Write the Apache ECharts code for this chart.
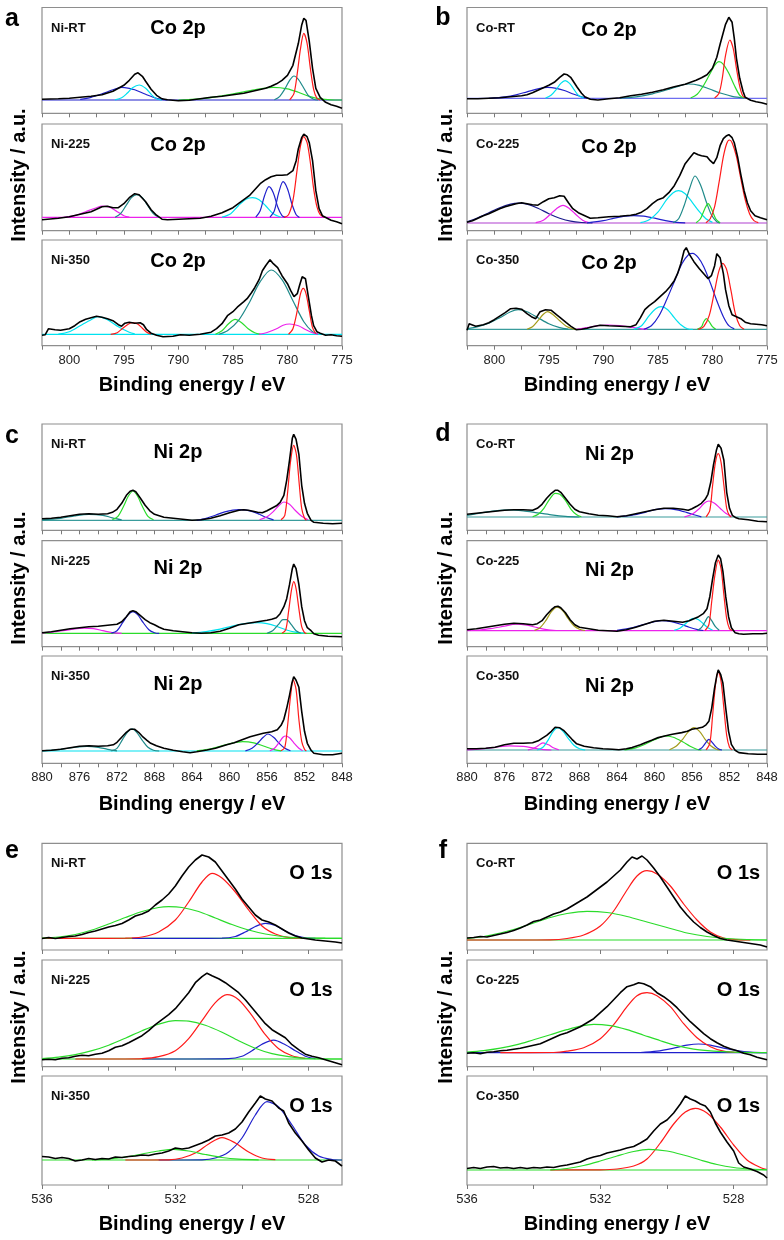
<!DOCTYPE html>
<html><head><meta charset="utf-8">
<script src="https://cdn.jsdelivr.net/npm/echarts@6/dist/echarts.min.js"></script>
<style>html,body{margin:0;padding:0;background:#fff}#c{width:784px;height:1240px}</style>
</head><body><div id="c"></div>
<script>
// ---------- axis ticks / labels ----------
const CO_TICKS = [775,777.5,780,782.5,785,787.5,790,792.5,795,797.5,800,802.5];
const CO_LABELS = [775,780,785,790,795,800];
const NI_TICKS = [848,850,852,854,856,858,860,862,864,866,868,870,872,874,876,878,880];
const NI_LABELS = [848,852,856,860,864,868,872,876,880];
const O_TICKS = [528,530,532,534,536];
const O_LABELS = [528,532,536];
const SAMPLES_LEFT = ['Ni-RT','Ni-225','Ni-350'];
const SAMPLES_RIGHT = ['Co-RT','Co-225','Co-350'];
const ELEMENTS = ['Co 2p','Ni 2p','O 1s'];
const PANEL_LETTERS = ['a','b','c','d','e','f'];
const X_TITLE = 'Binding energy / eV';
const Y_TITLE = 'Intensity / a.u.';

// ---------- (a) Ni samples, Co 2p ----------
const A1_BASE = 13.3;
const A1_RAW = [[802.5,14],[801,14.5],[800,15],[799,16],[798,17],[797,18.5],[796,22],[795.5,25],[795,28],[794.5,33],[794,39],[793.7,40.5],[793.3,37],[793,32],[792.5,24],[792,18],[791.5,14.5],[791,13.5],[790,12.5],[789,13],[788,14.5],[787,16],[786,17],[785,18.5],[784,20],[783,22.5],[782,25],[781.5,27],[781,29.5],[780.5,33],[780,38],[779.5,48],[779,70],[778.7,88],[778.5,95],[778.3,93],[778,72],[777.7,45],[777.4,25],[777,16],[776.5,11],[776,8.5],[775.5,7],[775,5]];
const A1_BLUE = [[799,14],[798,16],[797,19.5],[796,23.5],[795.2,26],[794.5,25],[794,23.5],[793,19],[792,15],[791,13.5]];
const A1_CYAN = [[795.8,13.5],[795.2,15.5],[794.7,20],[794.2,25.5],[793.6,28.3],[793,25],[792.5,19],[792,14.5],[791.5,13.3]];
const A1_GREEN = [[790,13.3],[788,14.5],[786,17.5],[784,21.5],[782.5,24.5],[781.3,26],[780,24.5],[779,21],[778,17],[777,14.5],[776,13.5],[775,13.3]];
const A1_TEAL = [[781.2,13.5],[780.7,17],[780.2,25],[779.8,33],[779.4,37.3],[779,34],[778.6,27],[778.1,18],[777.6,14],[777.2,13.3]];
const A1_RED = [[779.8,13.5],[779.4,20],[779.1,40],[778.8,65],[778.5,80],[778.2,70],[777.9,45],[777.6,24],[777.3,15],[777,13.3]];

const A2_BASE = 13.3;
const A2_RAW = [[802.5,11],[802,11.5],[801,12.5],[800,14],[799,16.5],[798,19],[797,24],[796.5,24.5],[796,23],[795.5,23],[795,27],[794.5,33],[794,37],[793.6,36],[793,29],[792.5,21],[792,15.5],[791.5,11.5],[791,11],[790,11.5],[789,12],[788,12.5],[787,14.5],[786,18],[785,23],[784.5,27],[784,31],[783.5,35],[783,41],[782.5,47],[782,51],[781.5,54],[781,55.5],[780.5,55.5],[780,56],[779.5,60],[779.2,70],[779,82],[778.7,93],[778.5,96.5],[778.2,94],[778,88],[777.7,70],[777.4,40],[777.1,22],[776.8,15],[776,10.5],[775.5,9],[775,7]];
const A2_MAGENTA = [[800.5,13.3],[799.5,15],[798.5,19],[797.5,23],[797,24.5],[796.3,23.5],[795.6,19],[795,15],[794.5,13.5]];
const A2_TEAL = [[795.8,13.5],[795.3,17],[794.8,25],[794.3,33],[793.8,36],[793.3,33],[792.8,25],[792.3,17],[791.8,13.5]];
const A2_CYAN = [[786,13.5],[785.2,17],[784.5,25],[783.8,31.5],[783.2,33],[782.6,31],[782,25],[781.3,17],[780.6,13.5]];
const A2_BLUE1 = [[782.9,13.5],[782.5,20],[782.1,35],[781.7,44],[781.3,38],[780.9,24],[780.5,15],[780.2,13.3]];
const A2_BLUE2 = [[781.6,13.5],[781.2,20],[780.8,38],[780.4,49],[780,42],[779.6,27],[779.2,16],[778.9,13.3]];
const A2_RED = [[780.3,13.3],[779.9,16],[779.5,30],[779.1,62],[778.8,85],[778.5,94],[778.2,88],[777.9,68],[777.6,42],[777.3,24],[777,16],[776.6,13.5]];

const A3_BASE = 11.4;
const A3_RAW = [[802.5,10.5],[802.2,11],[801.9,17],[801.3,16],[800.8,15.5],[800,17],[799.5,20],[799,24],[798.5,26.5],[798,28],[797.5,29.5],[797,28.5],[796.5,27],[796,25],[795.5,21],[795.2,19.5],[794.9,22.5],[794.5,23.5],[794,22.5],[793.5,23],[793.2,21],[792.9,16],[792.5,12.5],[792,10.5],[791.4,9],[790.5,9.5],[789.8,11],[789,10.5],[788,11.5],[787,13.5],[786.5,17],[786,22],[785.5,30],[785,34],[784.6,38.5],[784,44],[783.7,47],[783.3,53],[783,58],[782.6,66],[782.3,75],[782,80],[781.6,86],[781.3,82],[780.9,78],[780.5,70],[780,62],[779.7,55],[779.4,49],[779.1,52],[778.9,60],[778.65,69],[778.35,67],[778.1,50],[777.8,30],[777.6,20],[777.3,14],[777,12.5],[776.5,10.5],[776,11],[775.5,10],[775,9.5]];
const A3_CYAN = [[801,11.5],[800,14],[799,20],[798,26],[797.4,29],[796.5,26],[795.5,19],[794.5,13.5],[794,11.8]];
const A3_RED1 = [[796.2,11.4],[795.6,13],[795.1,17.5],[794.6,21.5],[794.2,23],[793.7,21.5],[793.3,17.5],[792.9,13.5],[792.5,11.6]];
const A3_GREEN = [[786.6,11.5],[786,15],[785.4,22],[784.8,26.3],[784.2,23],[783.6,17],[783,13],[782.5,11.5]];
const A3_TEAL = [[786.3,11.5],[785.5,15],[784.5,25],[783.5,43],[782.5,64],[781.5,75.7],[780.5,66],[779.5,45],[778.5,24],[777.7,14],[777.2,11.6]];
const A3_MAGENTA = [[782.6,11.5],[781.8,13.5],[781,17],[780.4,20.5],[779.8,21.7],[779,20],[778.3,16],[777.7,13],[777.2,11.6]];
const A3_RED2 = [[779.9,11.5],[779.5,17],[779.1,35],[778.8,52],[778.55,57.3],[778.3,52],[778,35],[777.7,18],[777.4,12]];

// ---------- (b) Co samples, Co 2p ----------
const B1_BASE = 15;
const B1_RAW = [[802.5,14.5],[801.5,14.5],[800.5,15],[799.5,15.5],[798.5,16.5],[797.5,17.5],[797,18.5],[796.5,20.5],[796,23],[795.5,25.5],[795,28],[794.5,31],[794,36],[793.6,39.3],[793.3,38.5],[793,36],[792.7,31],[792.4,26],[792,20],[791.7,16.5],[791.2,14],[790.5,13.3],[789.5,14.5],[788.5,15.5],[787.5,17.5],[786.5,19],[785.5,21],[784.5,23.5],[783.5,26.5],[782.5,29],[782,31],[781.5,33],[781,35.5],[780.5,38.5],[780,45],[779.6,56],[779.3,69],[779,81],[778.8,89],[778.5,96],[778.2,91],[778,75],[777.8,55],[777.5,35],[777.2,22],[777,16],[776.5,13],[776,11.5],[775.5,10.5],[775,9]];
const B1_BLUE = [[800.5,15],[799,16.5],[798,18.5],[797,21.5],[796,24.5],[795.1,26],[794.3,25],[793.5,22.5],[792.7,19],[792,16.5],[791.5,15.2]];
const B1_CYAN = [[795.3,15.2],[794.8,18],[794.3,24],[793.9,30],[793.5,32.7],[793.1,30],[792.7,24],[792.3,18],[791.8,15.2]];
const B1_TEAL = [[788.5,15.2],[787,16.5],[785.5,19.5],[784,24],[783,27.5],[782.2,29.3],[781.2,28],[780.2,24],[779.2,20],[778.2,17],[777,15.3]];
const B1_GREEN = [[782,15.3],[781.4,19],[780.8,28],[780.2,40],[779.8,48],[779.4,51.7],[779,49],[778.5,40],[778,28],[777.5,18],[777.1,15.3]];
const B1_RED = [[779.8,15.3],[779.4,20],[779.1,35],[778.8,58],[778.4,73.3],[778.1,65],[777.8,45],[777.5,27],[777.2,17],[776.9,15.3]];

const B2_BASE = 7.7;
const B2_RAW = [[802.5,8.5],[802,10],[801.5,12.5],[801,15],[800.5,17],[800,19.5],[799.5,22],[799,24],[798.5,25.5],[798,27],[797.5,28],[797,27],[796.5,26],[796,25.5],[795.5,29],[795,32],[794.5,33],[794,35],[793.6,34.5],[793.2,28],[792.8,22],[792.3,18],[791.8,15.5],[791.2,12.5],[790.5,13],[789.5,14],[788.5,14.5],[787.5,15.5],[787,16.5],[786.5,18.5],[786,22],[785.5,27],[785,31],[784.5,33],[784,38],[783.5,45],[783,55],[782.5,67],[782,74],[781.7,78],[781.3,76],[781,75],[780.5,74],[780.2,70],[779.9,67],[779.6,73],[779.3,85],[779,92],[778.7,95],[778.5,96],[778.2,93],[778,88],[777.7,74],[777.4,56],[777.1,40],[776.8,28],[776.5,20],[776.1,15],[775.6,13],[775,11]];
const B2_NAVY = [[802.5,9],[801.5,13],[800.5,18],[799.5,23],[798.5,26.5],[797.8,27.5],[797,26.5],[796,22.5],[795,17],[794,12.5],[793,9.5],[792,8.2],[791,7.8]];
const B2_MAGENTA = [[796.2,8],[795.5,10.5],[794.9,16],[794.3,22],[793.7,25.3],[793.1,22],[792.5,16],[791.9,10.5],[791.3,8]];
const B2_BLUE = [[791.5,7.8],[790,10],[789,12.5],[788,14.5],[787.2,15],[786.3,14.5],[785.3,12.5],[784.3,10],[783.3,8.3],[782.5,7.8]];
const B2_CYAN = [[786.6,8],[785.8,11],[785,18.5],[784.2,31],[783.6,38],[783.1,40],[782.5,37],[781.9,29],[781.2,19],[780.6,12],[780,8.3]];
const B2_TEAL = [[783.6,8],[783.1,12],[782.6,25],[782.1,42],[781.6,54.7],[781.1,46],[780.6,30],[780.1,16],[779.6,9],[779.3,7.9]];
const B2_GREEN = [[781.5,8],[781.1,12],[780.7,22],[780.4,27],[780.1,22],[779.7,12],[779.3,8]];
const B2_RED = [[780.6,8],[780.2,12],[779.8,24],[779.4,48],[779,74],[778.7,87],[778.45,90.7],[778.2,88],[777.8,74],[777.4,52],[777,31],[776.6,17],[776.2,10],[775.8,8]];

const B3_BASE = 16.3;
const B3_RAW = [[802.5,15.5],[802.3,22],[801.7,19.5],[801,21],[800.5,23],[800,26],[799.5,29.5],[799,33],[798.5,37],[798,37.5],[797.5,36.5],[797,32],[796.6,29],[796.2,27],[795.8,34],[795.3,36],[794.8,35.5],[794.3,31],[793.9,27.5],[793.4,23],[793,19.5],[792.5,16],[792,16.5],[791.5,17.5],[791,19],[790.3,20.5],[789.5,20],[788.5,19.5],[787.5,19],[787,21],[786.6,28],[786.2,36],[785.8,40],[785.3,44],[784.8,49],[784.3,54],[783.9,59],[783.5,65],[783.2,72],[782.9,82],[782.6,95],[782.4,98],[782.1,91],[781.7,84],[781.2,77],[780.8,72],[780.4,67],[780.1,70],[779.8,80],[779.6,92],[779.3,88],[779,72],[778.8,56],[778.5,40],[778.2,31],[777.8,29],[777.4,27],[777,23.5],[776.5,22],[776,21.5],[775.5,21],[775,20]];
const B3_TEAL = [[802.5,17],[801.5,19],[800.5,22.5],[799.5,28],[798.5,34],[797.8,36],[797,34],[796,28],[795,22],[794,18],[793.2,16.5]];
const B3_OLIVE = [[797,16.5],[796.5,19],[796,25],[795.5,31.5],[795.1,34],[794.6,31],[794,25],[793.4,19.5],[792.8,16.8],[792.4,16.3]];
const B3_MAGENTA = [[792.5,16.3],[791.5,18],[790.5,20],[789.5,20.7],[788.5,20],[787.5,18.5],[786.5,16.8],[786,16.3]];
const B3_CYAN = [[787.2,16.5],[786.5,20],[785.8,30],[785.2,37],[784.7,39],[784.1,36],[783.5,28],[782.9,21],[782.3,17],[781.8,16.3]];
const B3_BLUE = [[786.3,16.5],[785.6,20],[784.9,30],[784.2,46],[783.5,64],[782.8,82],[782.2,91],[781.8,92.3],[781.3,88],[780.8,79],[780.2,63],[779.6,45],[779,29],[778.5,20],[778,16.8]];
const B3_GREEN = [[781.4,16.3],[781,19],[780.8,24],[780.55,27],[780.3,24],[780,19],[779.7,16.5]];
const B3_RED = [[781.3,16.3],[780.8,19],[780.3,30],[779.8,55],[779.4,75],[779.05,82.3],[778.7,76],[778.3,55],[777.9,32],[777.5,20],[777.1,16.5]];

// ---------- (c) Ni samples, Ni 2p ----------
const C1_BASE = 10;
const C1_RAW = [[880,11.5],[879,12],[878,13],[877,14.5],[876,16],[875,16.5],[874,16],[873,16.5],[872.5,18],[872,21],[871.5,27],[871,35],[870.6,39],[870.3,40],[870,38.5],[869.5,32],[869,25],[868.5,19.5],[868,16],[867,13],[866,12],[865,11],[864,10],[863,10.5],[862,12],[861,14.5],[860,17.5],[859,20],[858.5,20.5],[858,20],[857,18],[856.5,17.5],[856,19.5],[855.5,22],[855,24.5],[854.6,28],[854.2,35],[853.9,50],[853.6,70],[853.3,92],[853.15,96],[852.9,91],[852.6,76],[852.3,45],[852,27],[851.7,17],[851.3,10],[851,8],[850,7],[849,6.5],[848,7]];
const C1_TEAL = [[880,10.5],[878,12],[876.5,14.5],[875,16],[873.5,15],[872.5,12.5],[871.5,10.5]];
const C1_GREEN = [[872.5,10.5],[871.9,14],[871.3,24],[870.8,34],[870.3,39.3],[869.8,34],[869.3,24],[868.7,14],[868.1,10.5]];
const C1_BLUE = [[863.5,10],[862.5,12],[861.5,15],[860.5,18.5],[859,20.7],[857.8,19.5],[856.8,16],[856,12.5],[855.3,10.5]];
const C1_MAGENTA = [[856.8,10.5],[856,13.5],[855.3,19],[854.7,25],[854.2,28.3],[853.6,26],[853,20],[852.3,14],[851.6,10.5]];
const C1_RED = [[854.5,10.5],[854.1,15],[853.8,38],[853.5,68],[853.15,85],[852.85,75],[852.55,45],[852.3,22],[852,12],[851.8,10]];

const C2_BASE = 13.3;
const C2_RAW = [[880,14],[879,15],[878,16.5],[877,18],[876,19],[875,20],[874,20.5],[873,21.5],[872,22.5],[871.5,25],[871,30],[870.6,35],[870.3,36],[870,35],[869.5,31],[869,27],[868.5,24],[868,22],[867.5,19.5],[867,17.5],[866,16],[865,15],[864,14],[863,13.5],[862,14],[861,15.5],[860,18.5],[859,22],[858,23.5],[857,25],[856,26.5],[855.5,27.5],[855,29],[854.6,33],[854.2,40],[853.9,48],[853.6,62],[853.3,78],[853.15,82.7],[852.9,78],[852.6,62],[852.3,40],[852,26],[851.7,19],[851.3,16],[851,13],[850.5,11.5],[849.5,10.5],[848,10]];
const C2_MAGENTA = [[880,13.5],[878.5,15],[877,17],[875.5,18.5],[874.5,18],[873.5,16],[872.5,14],[871.5,13.3]];
const C2_BLUE = [[872.6,13.5],[872,16],[871.4,24],[870.8,32],[870.3,35],[869.8,32],[869.2,24],[868.6,17],[868,14],[867.5,13.3]];
const C2_CYAN = [[864,13.5],[862.5,15],[861,17.5],[859.5,21],[858,23.5],[857,24],[856,23],[855,20.5],[854,17],[853,14.5],[852,13.5]];
const C2_TEAL = [[856,13.5],[855.4,16],[854.8,22],[854.3,27],[853.9,27],[853.4,22],[852.9,16],[852.4,13.5]];
const C2_RED = [[854.4,13.5],[854,17],[853.7,35],[853.4,56],[853.15,65],[852.9,58],[852.6,38],[852.3,20],[852,14],[851.8,13.3]];

const C3_BASE = 12.3;
const C3_RAW = [[880,12.5],[879,13],[878,14],[877,15.5],[876,17],[875,17.5],[874,17],[873,17.5],[872.4,18.5],[872,21],[871.5,26],[871,31],[870.6,34],[870.4,35],[870.1,34],[869.7,31],[869.3,27],[868.8,23],[868.4,20],[867.8,17.5],[867,15],[866,13],[865,11.5],[864.2,10.5],[863.5,11.5],[862.4,13.3],[861.5,15],[860.3,18.5],[859.5,20.5],[858.8,23],[857.8,26.5],[857,28.5],[856.4,30],[855.5,31.5],[854.9,33.5],[854.5,38],[854.2,44],[853.9,55],[853.6,68],[853.35,80],[853.15,86.7],[852.9,83],[852.6,76],[852.3,52],[852,32],[851.7,20],[851.3,13],[851,10],[850,8.5],[849,8.5],[848,10]];
const C3_TEAL1 = [[880,12.5],[878,14],[876.5,16],[875.2,17],[874,16],[873,14],[872,12.5]];
const C3_TEAL2 = [[872.6,12.5],[872,15],[871.4,24],[870.9,31],[870.4,34.5],[869.9,31],[869.3,23],[868.7,16],[868.1,13],[867.5,12.3]];
const C3_GREEN = [[863.5,12.5],[862.3,14],[861,17],[859.8,20],[858.6,21.7],[857.4,20.5],[856.3,17],[855.3,14],[854.5,12.5]];
const C3_BLUE = [[858.3,12.5],[857.6,15],[857,20],[856.4,26],[855.9,29.3],[855.3,26],[854.7,20],[854.1,15],[853.5,12.5]];
const C3_MAGENTA = [[855.7,12.5],[855.2,15],[854.7,21],[854.3,26],[854,27.3],[853.6,25.5],[853.1,20],[852.6,15],[852.2,12.5]];
const C3_RED = [[854.5,12.5],[854.1,16],[853.8,38],[853.5,66],[853.2,83.3],[852.9,74],[852.6,44],[852.3,22],[852,14],[851.8,12.3]];

// ---------- (d) Co samples, Ni 2p ----------
const D1_BASE = 13.3;
const D1_RAW = [[880,16],[879,17],[878,18],[877,19],[876,20],[875,20.5],[874,20.5],[873,20],[872.5,22],[872,26],[871.5,32],[871,37],[870.6,40],[870.3,40],[870,38],[869.5,32],[869,26],[868.5,21],[868,18.5],[867,16.5],[866,15],[865,14.5],[864,13.5],[863,14.5],[862,16.5],[861,18.5],[860,20.5],[859,22],[858,22],[857,21],[856.4,20],[856,21.5],[855.5,24],[855,27],[854.6,31],[854.3,36],[854,48],[853.7,66],[853.4,80],[853.2,86],[852.9,82],[852.6,70],[852.3,38],[852,22],[851.7,15],[851.3,12.5],[851,11.5],[850,10.5],[849,9],[848,8.5]];
const D1_TEAL = [[880,15],[878.5,17.5],[877,19.5],[875.5,20.5],[874,19.5],[872.5,17.5],[871,15.5],[869.5,14],[868,13.3]];
const D1_GREEN = [[873,13.5],[872.4,16],[871.8,22],[871.2,31],[870.6,37],[870.1,36],[869.5,30],[868.9,21],[868.3,15.5],[867.8,13.5]];
const D1_BLUE = [[864,13.5],[862.5,15],[861,18],[859.8,21],[858.8,21.7],[857.6,20.5],[856.6,18],[855.8,15.5],[855,13.5]];
const D1_MAGENTA = [[856.8,13.5],[856,16],[855.3,21],[854.7,27],[854.2,29.3],[853.6,27],[853,22],[852.4,17],[851.8,14]];
const D1_RED = [[854.5,13.5],[854.1,20],[853.8,45],[853.5,68],[853.2,76.7],[852.9,68],[852.6,45],[852.3,22],[852,14.5],[851.8,13.3]];

const D2_BASE = 16;
const D2_RAW = [[880,17],[879,18],[878,19.5],[877,21],[876,22.5],[875,23.5],[874,23],[873,22],[872.5,23],[872,26],[871.5,32],[871,37],[870.6,40],[870.3,40.5],[870,39],[869.5,34],[869,27],[868.5,22],[868,19.5],[867,18],[866,16.5],[865,16],[864,15.5],[863,17],[862,19.5],[861,22.5],[860,25.5],[859,26.5],[858,25.5],[857,24.5],[856.3,26],[855.8,28],[855.3,30],[854.8,33],[854.4,38],[854.1,50],[853.8,68],[853.5,84],[853.2,91.7],[852.95,88],[852.7,75],[852.4,50],[852.1,30],[851.8,19],[851.4,14],[851,13],[850.5,12.5],[849.5,13],[848.5,13],[848,13.5]];
const D2_MAGENTA = [[879,16.3],[877.5,18],[876,20.5],[874.8,22.5],[873.6,21.5],[872.5,19],[871.5,17],[870.5,16.2]];
const D2_OLIVE = [[872.8,16.3],[872.2,19],[871.6,26],[871,35],[870.4,39.5],[869.8,36],[869.2,28],[868.6,21],[868,17.5],[867.4,16.2]];
const D2_BLUE = [[864,16.3],[862.6,18.5],[861.2,22],[860,25],[859.2,26],[858.2,25],[857.2,22.5],[856.3,19.5],[855.4,17],[854.8,16.2]];
const D2_CYAN = [[857.9,16.3],[857.3,18.5],[856.7,23],[856.2,27],[855.8,28.4],[855.3,27],[854.8,23],[854.3,19],[853.8,16.5]];
const D2_TEAL = [[855.4,16.3],[855,19],[854.6,25],[854.25,30],[853.9,26],[853.5,20],[853.1,16.5]];
const D2_RED = [[854.6,16.3],[854.2,22],[853.9,45],[853.55,72],[853.2,86.7],[852.9,78],[852.6,52],[852.3,28],[852,18],[851.7,16.2]];

const D3_BASE = 13.3;
const D3_RAW = [[880,14.5],[879,14.5],[878,15],[877,16],[876,18.5],[875,20],[874,20],[873,20.5],[872.4,22.5],[872,25],[871.5,28],[871,32],[870.6,36],[870.4,36.7],[870.1,35.5],[869.7,33],[869.3,29],[868.8,24],[868.3,19.5],[867.5,17],[866.5,15.5],[865.5,14.5],[864.5,14],[863.8,13.5],[863,14.5],[862.4,15.7],[861.5,18.5],[861,20.5],[860.3,23],[859.6,25.7],[858.8,27.5],[858.1,29],[857.1,30.7],[856.5,32],[856,34],[855.4,35],[854.9,36],[854.5,38.5],[854.2,42],[853.9,55],[853.6,75],[853.35,88],[853.2,93.3],[852.95,89],[852.7,80],[852.4,55],[852.1,32],[851.8,19],[851.4,13],[851,10.7],[850,9.5],[849,9],[848,9]];
const D3_MAGENTA1 = [[880,13.5],[878.5,14.5],[877,16],[875.5,17.5],[874,17],[873,15.5],[872,14],[871,13.3]];
const D3_MAGENTA2 = [[873.5,13.5],[873,14.5],[872.5,17],[871.9,20.5],[871.3,18.5],[870.8,15.5],[870.2,13.5]];
const D3_CYAN = [[872.5,13.5],[871.9,16],[871.3,24],[870.8,32],[870.3,35.7],[869.8,32.5],[869.2,25],[868.6,18],[868,14.5],[867.4,13.3]];
const D3_GREEN = [[863.2,13.5],[862,15.5],[861,19],[860,23.5],[858.9,27.3],[858,26],[857,21.5],[856.2,17],[855.5,14],[855,13.3]];
const D3_OLIVE = [[858.4,13.5],[857.7,17],[857,24],[856.4,31.5],[855.8,35.7],[855.2,32],[854.6,24],[854,17.5],[853.4,14],[853,13.3]];
const D3_BLUE = [[855.3,13.5],[854.9,16],[854.5,21],[854.2,24],[853.9,21.5],[853.5,17],[853.1,14],[852.8,13.3]];
const D3_RED = [[854.5,13.5],[854.1,20],[853.8,48],[853.5,78],[853.2,92],[852.9,82],[852.6,55],[852.3,28],[852,16],[851.7,13.3]];

// ---------- (e) Ni samples, O 1s ----------
const E1_BASE = 11.7;
const E1_RAW = [[536,11.5],[535.8,12.5],[535.6,11.5],[535.4,12.5],[535.2,13.5],[535,14],[534.8,15.5],[534.6,17.5],[534.4,19],[534.2,21],[534,23],[533.8,24.5],[533.6,26.5],[533.4,30],[533.2,34],[533,36],[532.8,39],[532.6,45],[532.4,50],[532.2,56],[532,64],[531.8,74],[531.6,83],[531.4,90],[531.2,95],[531,93],[530.8,88],[530.6,79],[530.4,70],[530.2,61],[530,51],[529.8,43],[529.6,35],[529.4,30],[529.2,28],[529,25],[528.8,21],[528.6,17],[528.4,14],[528.2,12],[528,11],[527.8,10],[527.5,9],[527.2,8],[527,7]];
const E1_GREEN = [[536,11.8],[535.5,13],[535,15.5],[534.5,20],[534,26],[533.5,32.5],[533,38.5],[532.5,42.5],[532.2,43.3],[531.8,42.5],[531.3,38.5],[530.8,32],[530.3,25.5],[529.8,20],[529.3,16],[528.8,13.5],[528.3,12.2],[527.5,11.8],[527,11.7]];
const E1_RED = [[536,11.7],[534.5,11.7],[533.5,11.8],[533,13],[532.5,18],[532,30],[531.6,48],[531.2,68],[530.9,76.7],[530.6,72],[530.2,58],[529.8,40],[529.4,24],[529,16],[528.6,12.5],[528.2,11.8]];
const E1_BLUE = [[533.3,11.7],[531.5,11.7],[530.6,11.8],[530.2,13.5],[529.9,18],[529.6,23.5],[529.3,26.7],[529,24.5],[528.7,19],[528.4,14.5],[528.1,12.2],[527.8,11.7]];

const E2_BASE = 7.7;
const E2_RAW = [[536,7],[535.8,7.5],[535.6,7],[535.4,8.5],[535.2,9],[535,10.5],[534.8,11.5],[534.6,11],[534.4,12.5],[534.2,13.5],[534,16],[533.8,19.5],[533.6,21],[533.4,24],[533.2,27.5],[533,31],[532.8,36],[532.6,42],[532.4,47],[532.2,52],[532,58],[531.8,66],[531.6,74],[531.4,84],[531.2,90],[531.05,93.5],[530.9,91],[530.7,88],[530.5,84],[530.3,79],[530.1,74],[529.9,67],[529.7,59],[529.5,51],[529.3,43],[529.1,37],[528.9,33],[528.7,29],[528.5,22],[528.3,17],[528.1,12.5],[527.9,10.5],[527.7,9],[527.5,7],[527.3,5],[527,2]];
const E2_GREEN = [[536,8],[535.5,9.5],[535,12],[534.5,16],[534,21.5],[533.5,28.5],[533,36],[532.5,42.5],[532,46],[531.6,45.5],[531.1,41.5],[530.6,34.5],[530.1,26],[529.6,18.5],[529.1,13],[528.6,10],[528,8.2],[527,7.7]];
const E2_RED = [[535,7.7],[533.5,7.7],[533,8],[532.5,10],[532,16],[531.6,28],[531.2,46],[530.8,64],[530.45,72],[530.1,67],[529.7,51],[529.3,32],[528.9,18],[528.5,11],[528.1,8.3]];
const E2_BLUE = [[533,7.7],[531.5,7.7],[530.4,8],[530,10.5],[529.7,16],[529.4,22.5],[529.05,26.5],[528.7,22],[528.4,16],[528.1,10.5],[527.8,8]];

const E3_BASE = 25;
const E3_RAW = [[536,28.5],[535.8,28],[535.6,26.5],[535.4,27.5],[535.2,26.5],[535,24],[534.8,25],[534.6,26.5],[534.4,25.5],[534.2,26.5],[534,26],[533.8,28],[533.6,27.5],[533.4,28.5],[533.2,29],[533,30],[532.8,29.5],[532.6,31],[532.4,32],[532.2,34],[532,37],[531.8,36],[531.6,37],[531.4,39.5],[531.2,42],[531,45],[530.8,49],[530.6,50],[530.4,52],[530.2,56],[530,63],[529.8,73],[529.6,82],[529.45,89],[529.3,86],[529.1,84],[528.9,77],[528.75,74],[528.6,62],[528.4,52],[528.2,44],[528,35],[527.8,27],[527.6,23],[527.4,25],[527.2,24],[527,19]];
const E3_GREEN = [[534.5,25.2],[534,26],[533.5,28],[533,31],[532.5,34],[532.05,35.7],[531.6,34],[531.1,30.5],[530.6,27.5],[530.1,25.8],[529.5,25.1]];
const E3_RED = [[533.5,25],[532.2,25.2],[531.8,27],[531.4,32],[531,41],[530.6,47.3],[530.2,42],[529.8,33],[529.4,27],[529,25.3]];
const E3_BLUE = [[532.5,25],[531.2,25.2],[530.8,27],[530.4,33],[530,47],[529.6,70],[529.25,83.3],[528.9,78],[528.5,60],[528.1,40],[527.7,29],[527.3,25.5],[527,25]];

// ---------- (f) Co samples, O 1s ----------
const F1_BASE = 10;
const F1_RAW = [[536,12],[535.8,12.5],[535.6,13.5],[535.4,13],[535.2,14.5],[535,16],[534.8,17.5],[534.6,19.5],[534.4,22],[534.2,25],[534,28.5],[533.8,30],[533.6,33],[533.4,36],[533.2,38],[533,41],[532.8,45],[532.6,49],[532.4,53],[532.2,58],[532,63],[531.8,68],[531.6,74],[531.4,80],[531.2,88],[531.05,93],[530.9,91],[530.75,94],[530.6,90],[530.4,82],[530.2,73],[530,63],[529.8,53],[529.6,43],[529.4,35],[529.2,28],[529,22.5],[528.8,18],[528.6,14.5],[528.4,11.5],[528.2,10],[528,9],[527.8,8],[527.5,6.5],[527.2,5],[527,3]];
const F1_GREEN = [[536,11.5],[535.5,13.5],[535,17],[534.5,21.5],[534,27],[533.5,32.5],[533,36.5],[532.4,38.7],[531.8,37.5],[531.2,33.5],[530.6,28],[530,22.5],[529.4,17],[528.8,13.5],[528.2,11.5],[527.6,10.5],[527,10]];
const F1_RED = [[536,10],[534.5,10],[533.5,10.2],[533,11.5],[532.5,15],[532,24],[531.6,39],[531.2,60],[530.9,74],[530.6,79.3],[530.3,76],[529.9,64],[529.5,46],[529.1,30],[528.7,18],[528.3,12],[527.9,10.3],[527.5,10]];

const F2_BASE = 14;
const F2_RAW = [[536,13.5],[535.8,14],[535.6,13],[535.4,14.5],[535.2,15],[535,16],[534.8,16.5],[534.6,17.5],[534.4,18.5],[534.2,20],[534,21.5],[533.8,23],[533.6,26],[533.4,29],[533.2,32],[533,34],[532.8,37],[532.6,40],[532.4,44],[532.2,48],[532,54],[531.8,60],[531.6,67],[531.4,74],[531.2,80],[531,82],[530.85,84],[530.7,83],[530.5,80],[530.3,74],[530.1,70],[529.9,65],[529.7,59],[529.5,52],[529.3,45],[529.1,39],[528.9,33],[528.7,28],[528.5,24],[528.3,20.5],[528.1,18],[527.9,16],[527.7,13.5],[527.5,12],[527.3,9.5],[527,7]];
const F2_GREEN = [[536,14.5],[535.5,16],[535,18.5],[534.5,22],[534,27],[533.5,32],[533,37],[532.6,40.5],[532.2,42.4],[531.7,41],[531.2,37],[530.7,31.5],[530.2,26],[529.7,21],[529.2,17.5],[528.6,15.5],[528,14.5],[527,14]];
const F2_RED = [[535,14],[533.4,14.2],[533,15.5],[532.5,19],[532,28],[531.6,42],[531.2,60],[530.9,71],[530.6,74],[530.3,71],[529.9,60],[529.5,43],[529.1,29],[528.7,20],[528.3,15.5],[527.9,14.2]];
const F2_BLUE = [[530.8,14.2],[530.3,15.5],[529.8,18.5],[529.4,21.5],[529.05,22.7],[528.7,21.5],[528.3,18.5],[527.9,16],[527.5,14.5],[527,14]];

const F3_BASE = 15;
const F3_RAW = [[536,16.5],[535.8,17.5],[535.6,16.5],[535.4,18],[535.2,18.5],[535,17],[534.8,17.5],[534.6,16.5],[534.4,17.5],[534.2,16.5],[534,17.5],[533.8,17],[533.6,18],[533.4,17.5],[533.2,19],[533,20],[532.8,21.5],[532.6,23],[532.4,26],[532.2,28],[532,29.5],[531.8,32],[531.6,33.5],[531.4,35],[531.2,37],[531,38.5],[530.8,42],[530.6,46],[530.4,54],[530.2,61],[530,65],[529.8,72],[529.6,81],[529.45,89],[529.3,86],[529.15,84],[529,81],[528.85,79],[528.7,73],[528.55,62],[528.4,53],[528.2,43],[528,34],[527.85,22],[527.7,18],[527.5,16],[527.3,13.5],[527.1,10],[527,7]];
const F3_GREEN = [[533.5,15.2],[533,16.5],[532.5,19.5],[532,24],[531.5,29],[531,33.5],[530.55,35.7],[530,34],[529.5,30],[529,25],[528.5,20.5],[528,17.5],[527.5,16],[527,15.3]];
const F3_RED = [[533.5,15],[532,15.2],[531.5,16],[531,19],[530.6,26],[530.2,42],[529.8,61],[529.45,73],[529.15,76.7],[528.8,72],[528.4,58],[528,40],[527.6,25],[527.2,17.5],[527,15.5]];

// ---------- styling & layout ----------
const COL = {red:'#ff1a1a', green:'#2bdc2b', blue:'#2020cc', cyan:'#00e2f0', teal:'#1f8a8a',
  magenta:'#ec22ec', olive:'#a49c1c', navy:'#1a1a8c', lav:'#6e6ef0', tealBase:'#3a9c9c'};
const FONT = 'Arial, "Liberation Sans", Helvetica, sans-serif';
const COL_LEFT = [42, 467];
const PLOT_W = 300;
const ROWS = [
  [[7.5,105.8],[124,106.7],[240,105.7]],
  [[424,106.3],[540.7,106],[656,107.3]],
  [[843.3,106.7],[960,106.7],[1076,109]]
];
const XCFG = [
  {min:775, max:802.5, ticks:CO_TICKS, labels:CO_LABELS},
  {min:848, max:880, ticks:NI_TICKS, labels:NI_LABELS},
  {min:527, max:536, ticks:O_TICKS, labels:O_LABELS}
];

const PANELS = [
  [ // a
    {raw:A1_RAW, base:A1_BASE, bc:COL.blue, comps:[[A1_BLUE,COL.blue],[A1_CYAN,COL.cyan],[A1_GREEN,COL.green],[A1_TEAL,COL.teal],[A1_RED,COL.red]]},
    {raw:A2_RAW, base:A2_BASE, bc:COL.magenta, comps:[[A2_MAGENTA,COL.magenta],[A2_TEAL,COL.teal],[A2_CYAN,COL.cyan],[A2_BLUE1,COL.blue],[A2_BLUE2,COL.blue],[A2_RED,COL.red]]},
    {raw:A3_RAW, base:A3_BASE, bc:COL.cyan, comps:[[A3_CYAN,COL.cyan],[A3_RED1,COL.red],[A3_GREEN,COL.green],[A3_TEAL,COL.teal],[A3_MAGENTA,COL.magenta],[A3_RED2,COL.red]]}
  ],
  [ // b
    {raw:B1_RAW, base:B1_BASE, bc:COL.lav, comps:[[B1_BLUE,COL.blue],[B1_CYAN,COL.cyan],[B1_TEAL,COL.teal],[B1_GREEN,COL.green],[B1_RED,COL.red]]},
    {raw:B2_RAW, base:B2_BASE, bc:'#b040d0', comps:[[B2_NAVY,COL.navy],[B2_MAGENTA,COL.magenta],[B2_BLUE,COL.blue],[B2_CYAN,COL.cyan],[B2_TEAL,COL.teal],[B2_GREEN,COL.green],[B2_RED,COL.red]]},
    {raw:B3_RAW, base:B3_BASE, bc:COL.tealBase, comps:[[B3_TEAL,COL.teal],[B3_OLIVE,COL.olive],[B3_MAGENTA,COL.magenta],[B3_CYAN,COL.cyan],[B3_BLUE,COL.blue],[B3_GREEN,COL.green],[B3_RED,COL.red]]}
  ],
  [ // c
    {raw:C1_RAW, base:C1_BASE, bc:COL.tealBase, comps:[[C1_TEAL,COL.teal],[C1_GREEN,COL.green],[C1_BLUE,COL.blue],[C1_MAGENTA,COL.magenta],[C1_RED,COL.red]]},
    {raw:C2_RAW, base:C2_BASE, bc:COL.green, comps:[[C2_MAGENTA,COL.magenta],[C2_BLUE,COL.blue],[C2_CYAN,COL.cyan],[C2_TEAL,COL.teal],[C2_RED,COL.red]]},
    {raw:C3_RAW, base:C3_BASE, bc:COL.cyan, comps:[[C3_TEAL1,COL.teal],[C3_TEAL2,COL.teal],[C3_GREEN,COL.green],[C3_BLUE,COL.blue],[C3_MAGENTA,COL.magenta],[C3_RED,COL.red]]}
  ],
  [ // d
    {raw:D1_RAW, base:D1_BASE, bc:COL.tealBase, comps:[[D1_TEAL,COL.teal],[D1_GREEN,COL.green],[D1_BLUE,COL.blue],[D1_MAGENTA,COL.magenta],[D1_RED,COL.red]]},
    {raw:D2_RAW, base:D2_BASE, bc:COL.magenta, comps:[[D2_MAGENTA,COL.magenta],[D2_OLIVE,COL.olive],[D2_BLUE,COL.blue],[D2_CYAN,COL.cyan],[D2_TEAL,COL.teal],[D2_RED,COL.red]]},
    {raw:D3_RAW, base:D3_BASE, bc:COL.tealBase, comps:[[D3_MAGENTA1,COL.magenta],[D3_MAGENTA2,COL.magenta],[D3_CYAN,COL.cyan],[D3_GREEN,COL.green],[D3_OLIVE,COL.olive],[D3_BLUE,COL.blue],[D3_RED,COL.red]]}
  ],
  [ // e
    {raw:E1_RAW, base:E1_BASE, bc:COL.green, comps:[[E1_BLUE,COL.blue],[E1_RED,COL.red],[E1_GREEN,COL.green]]},
    {raw:E2_RAW, base:E2_BASE, bc:COL.green, comps:[[E2_BLUE,COL.blue],[E2_RED,COL.red],[E2_GREEN,COL.green]]},
    {raw:E3_RAW, base:E3_BASE, bc:COL.green, comps:[[E3_BLUE,COL.blue],[E3_RED,COL.red],[E3_GREEN,COL.green]]}
  ],
  [ // f
    {raw:F1_RAW, base:F1_BASE, bc:COL.green, comps:[[F1_RED,COL.red],[F1_GREEN,COL.green]]},
    {raw:F2_RAW, base:F2_BASE, bc:COL.blue, comps:[[F2_BLUE,COL.blue],[F2_RED,COL.red],[F2_GREEN,COL.green]]},
    {raw:F3_RAW, base:F3_BASE, bc:COL.green, comps:[[F3_RED,COL.red],[F3_GREEN,COL.green]]}
  ]
];
// label offsets per block [left col, right col]
const ELEM_DX = [[136,142],[136,142.5],[269,271.5]];
const ELEM_DY = [[21,23],[28,30],[30,30]];
const LETTER_POS = [[12,19],[443,18],[12,436],[443,434],[12,851],[443,851]];
const YTITLE_Y = [175, 578, 1017];
const XTITLE_Y = [385, 804, 1224];

const grids = [], xAxes = [], yAxes = [], series = [], graphics = [];
PANELS.forEach((panel, p) => {
  const col = p % 2, blk = Math.floor(p / 2);
  const left = COL_LEFT[col];
  const xc = XCFG[blk];
  panel.forEach((sp, r) => {
    const gi = grids.length;
    const [top, h] = ROWS[blk][r];
    grids.push({left:left, top:top, width:PLOT_W, height:h, show:true, backgroundColor:'#fff',
      borderColor:'#8e8e8e', borderWidth:1.2, containLabel:false, outerBoundsMode:'none'});
    xAxes.push({gridIndex:gi, type:'value', min:xc.min, max:xc.max, inverse:true,
      axisLine:{show:false}, splitLine:{show:false},
      axisTick:{show:true, inside:false, length:4, lineStyle:{color:'#7a7a7a', width:1}, customValues:xc.ticks},
      axisLabel:{show:r===2, customValues:xc.labels, fontSize:13, color:'#222', margin:8, fontFamily:FONT}});
    yAxes.push({gridIndex:gi, type:'value', min:0, max:h, show:false});
    series.push({type:'line', xAxisIndex:gi, yAxisIndex:gi, data:[[xc.min, sp.base],[xc.max, sp.base]],
      symbol:'none', lineStyle:{color:sp.bc, width:1.2}, silent:true, z:1});
    sp.comps.forEach(([d, c]) => {
      series.push({type:'line', xAxisIndex:gi, yAxisIndex:gi, data:d, symbol:'none', smooth:0.3,
        lineStyle:{color:c, width:1.2}, silent:true, z:2});
    });
    series.push({type:'line', xAxisIndex:gi, yAxisIndex:gi, data:sp.raw, symbol:'none', smooth:false,
      lineStyle:{color:'#000', width:1.6}, silent:true, z:3});
    const samples = col === 0 ? SAMPLES_LEFT : SAMPLES_RIGHT;
    graphics.push({type:'text', x:left + 9, y:top + 20.5, silent:true, z:10,
      style:{text:samples[r], fill:'#111', fontSize:13, fontWeight:'bold', fontFamily:FONT, align:'left', verticalAlign:'middle'}});
    graphics.push({type:'text', x:left + ELEM_DX[blk][col], y:top + ELEM_DY[blk][col], silent:true, z:10,
      style:{text:ELEMENTS[blk], fill:'#000', fontSize:20, fontWeight:'bold', fontFamily:FONT, align:'center', verticalAlign:'middle'}});
  });
  graphics.push({type:'text', x:LETTER_POS[p][0], y:LETTER_POS[p][1], silent:true, z:10,
    style:{text:PANEL_LETTERS[p], fill:'#000', fontSize:25, fontWeight:'bold', fontFamily:FONT, align:'center', verticalAlign:'middle'}});
  graphics.push({type:'text', x:left + PLOT_W / 2, y:XTITLE_Y[blk], silent:true, z:10,
    style:{text:X_TITLE, fill:'#000', fontSize:20, fontWeight:'bold', fontFamily:FONT, align:'center', verticalAlign:'middle'}});
  graphics.push({type:'text', x:col === 0 ? 19 : 446, y:YTITLE_Y[blk], rotation:Math.PI / 2, silent:true, z:10,
    style:{text:Y_TITLE, fill:'#000', fontSize:20, fontWeight:'bold', fontFamily:FONT, align:'center', verticalAlign:'middle'}});
});

const chart = echarts.init(document.getElementById('c'), null, {renderer:'canvas'});
chart.setOption({animation:false, backgroundColor:'#fff', grid:grids, xAxis:xAxes, yAxis:yAxes, series:series, graphic:graphics});
</script></body></html>
